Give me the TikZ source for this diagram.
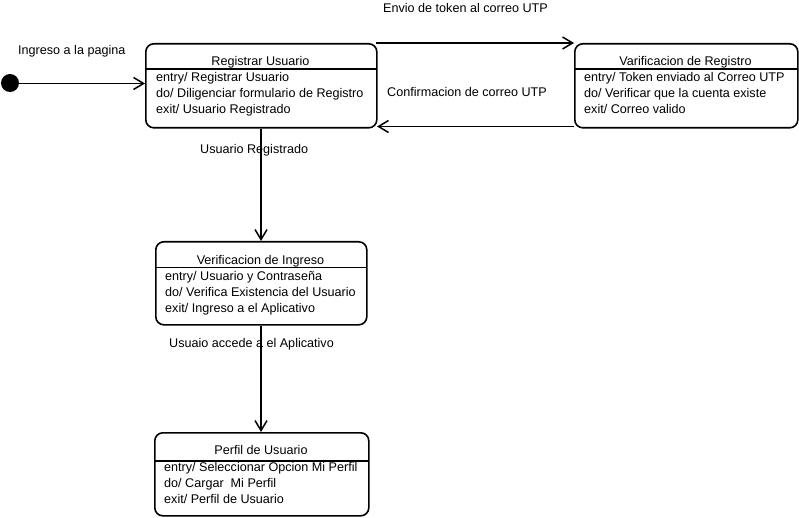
\documentclass[tikz,border=0pt]{standalone}
\usepackage{fontspec}
\setmainfont{Liberation Sans}
\usetikzlibrary{arrows.meta}
\begin{document}
\begin{tikzpicture}[x=1pt,y=-1pt,
  state/.style={draw,line width=1.6pt,rounded corners=8pt,anchor=north west,inner sep=0pt},
  lbl/.style={font=\fontsize{12.6pt}{14pt}\selectfont,inner sep=0pt,anchor=base west},
  ttl/.style={lbl,anchor=base},
  act/.style={lbl},
  sep/.style={line width=1.6pt},
  arr/.style={line width=1.6pt,-{Straight Barb[length=10pt,width=12pt,line width=1.5pt]}}]
\useasboundingbox (0,0) rectangle (799,518);
% Registrar Usuario
\node[state,minimum width=231pt,minimum height=84pt] (reg) at (145,43) {};
\draw[sep] (145,69) -- (376,69);
\node[ttl] (regt) at (260.5,66) {Registrar Usuario};
\node[act] (rega) at (156,82) {entry/ Registrar Usuario};
\node[act] (regb) at (156,98) {do/ Diligenciar formulario de Registro};
\node[act] (regc) at (156,113.5) {exit/ Usuario Registrado};
% Verificacion de Registro
\node[state,minimum width=223pt,minimum height=84pt] (ver) at (574,43) {};
\draw[sep] (574,69) -- (797,69);
\node[ttl] (vert) at (685.5,65.5) {Varificacion de Registro};
\node[act] (vera) at (584,82) {entry/ Token enviado al Correo UTP};
\node[act] (verb) at (584,98) {do/ Verificar que la cuenta existe};
\node[act] (verc) at (584,113.5) {exit/ Correo valido};
% Verificacion de Ingreso
\node[state,minimum width=211pt,minimum height=83pt] (ing) at (155,241) {};
\draw[sep] (155,267.5) -- (366,267.5);
\node[ttl] (ingt) at (260.5,264.5) {Verificacion de Ingreso};
\node[act] (inga) at (165,280.5) {entry/ Usuario y Contraseña};
\node[act] (ingb) at (165,296.5) {do/ Verifica Existencia del Usuario};
\node[act] (ingc) at (165,312) {exit/ Ingreso a el Aplicativo};
% Perfil de Usuario
\node[state,minimum width=214pt,minimum height=83pt] (per) at (154,432) {};
\draw[sep] (154,461) -- (368,461);
\node[ttl] (pert) at (261,454.5) {Perfil de Usuario};
\node[act] (pera) at (164,471.5) {entry/ Seleccionar Opcion Mi Perfil};
\node[act] (perb) at (164,487.5) {do/ Cargar\ \ Mi Perfil};
\node[act] (perc) at (164,503) {exit/ Perfil de Usuario};
% initial
\node[circle,fill=black,minimum size=18pt,inner sep=0pt] (init) at (10,83) {};
% connectors
\coordinate (a1) at (145,83.5);
\draw[arr] (init.east |- a1) -- (a1);
\coordinate (t1) at (376,43); \coordinate (t2) at (574,43);
\draw[arr] (t1) -- (t2);
\coordinate (b1) at (574,126.5); \coordinate (b2) at (377,126.5);
\draw[arr] (b1) -- (b2);
\draw[arr] (reg.south -| 261,0) -- (ing.north -| 261,0);
\draw[arr] (ing.south -| 261,0) -- (per.north -| 261,0);
% labels
\node[lbl] (l1) at (18,55) {Ingreso a la pagina};
\node[lbl] (l2) at (383,13) {Envio de token al correo UTP};
\node[lbl] (l3) at (387,97) {Confirmacion de correo UTP};
\node[lbl] (l4) at (200,153.5) {Usuario Registrado};
\node[lbl] (l5) at (169,347.5) {Usuaio accede a el Aplicativo};
\end{tikzpicture}
\end{document}
